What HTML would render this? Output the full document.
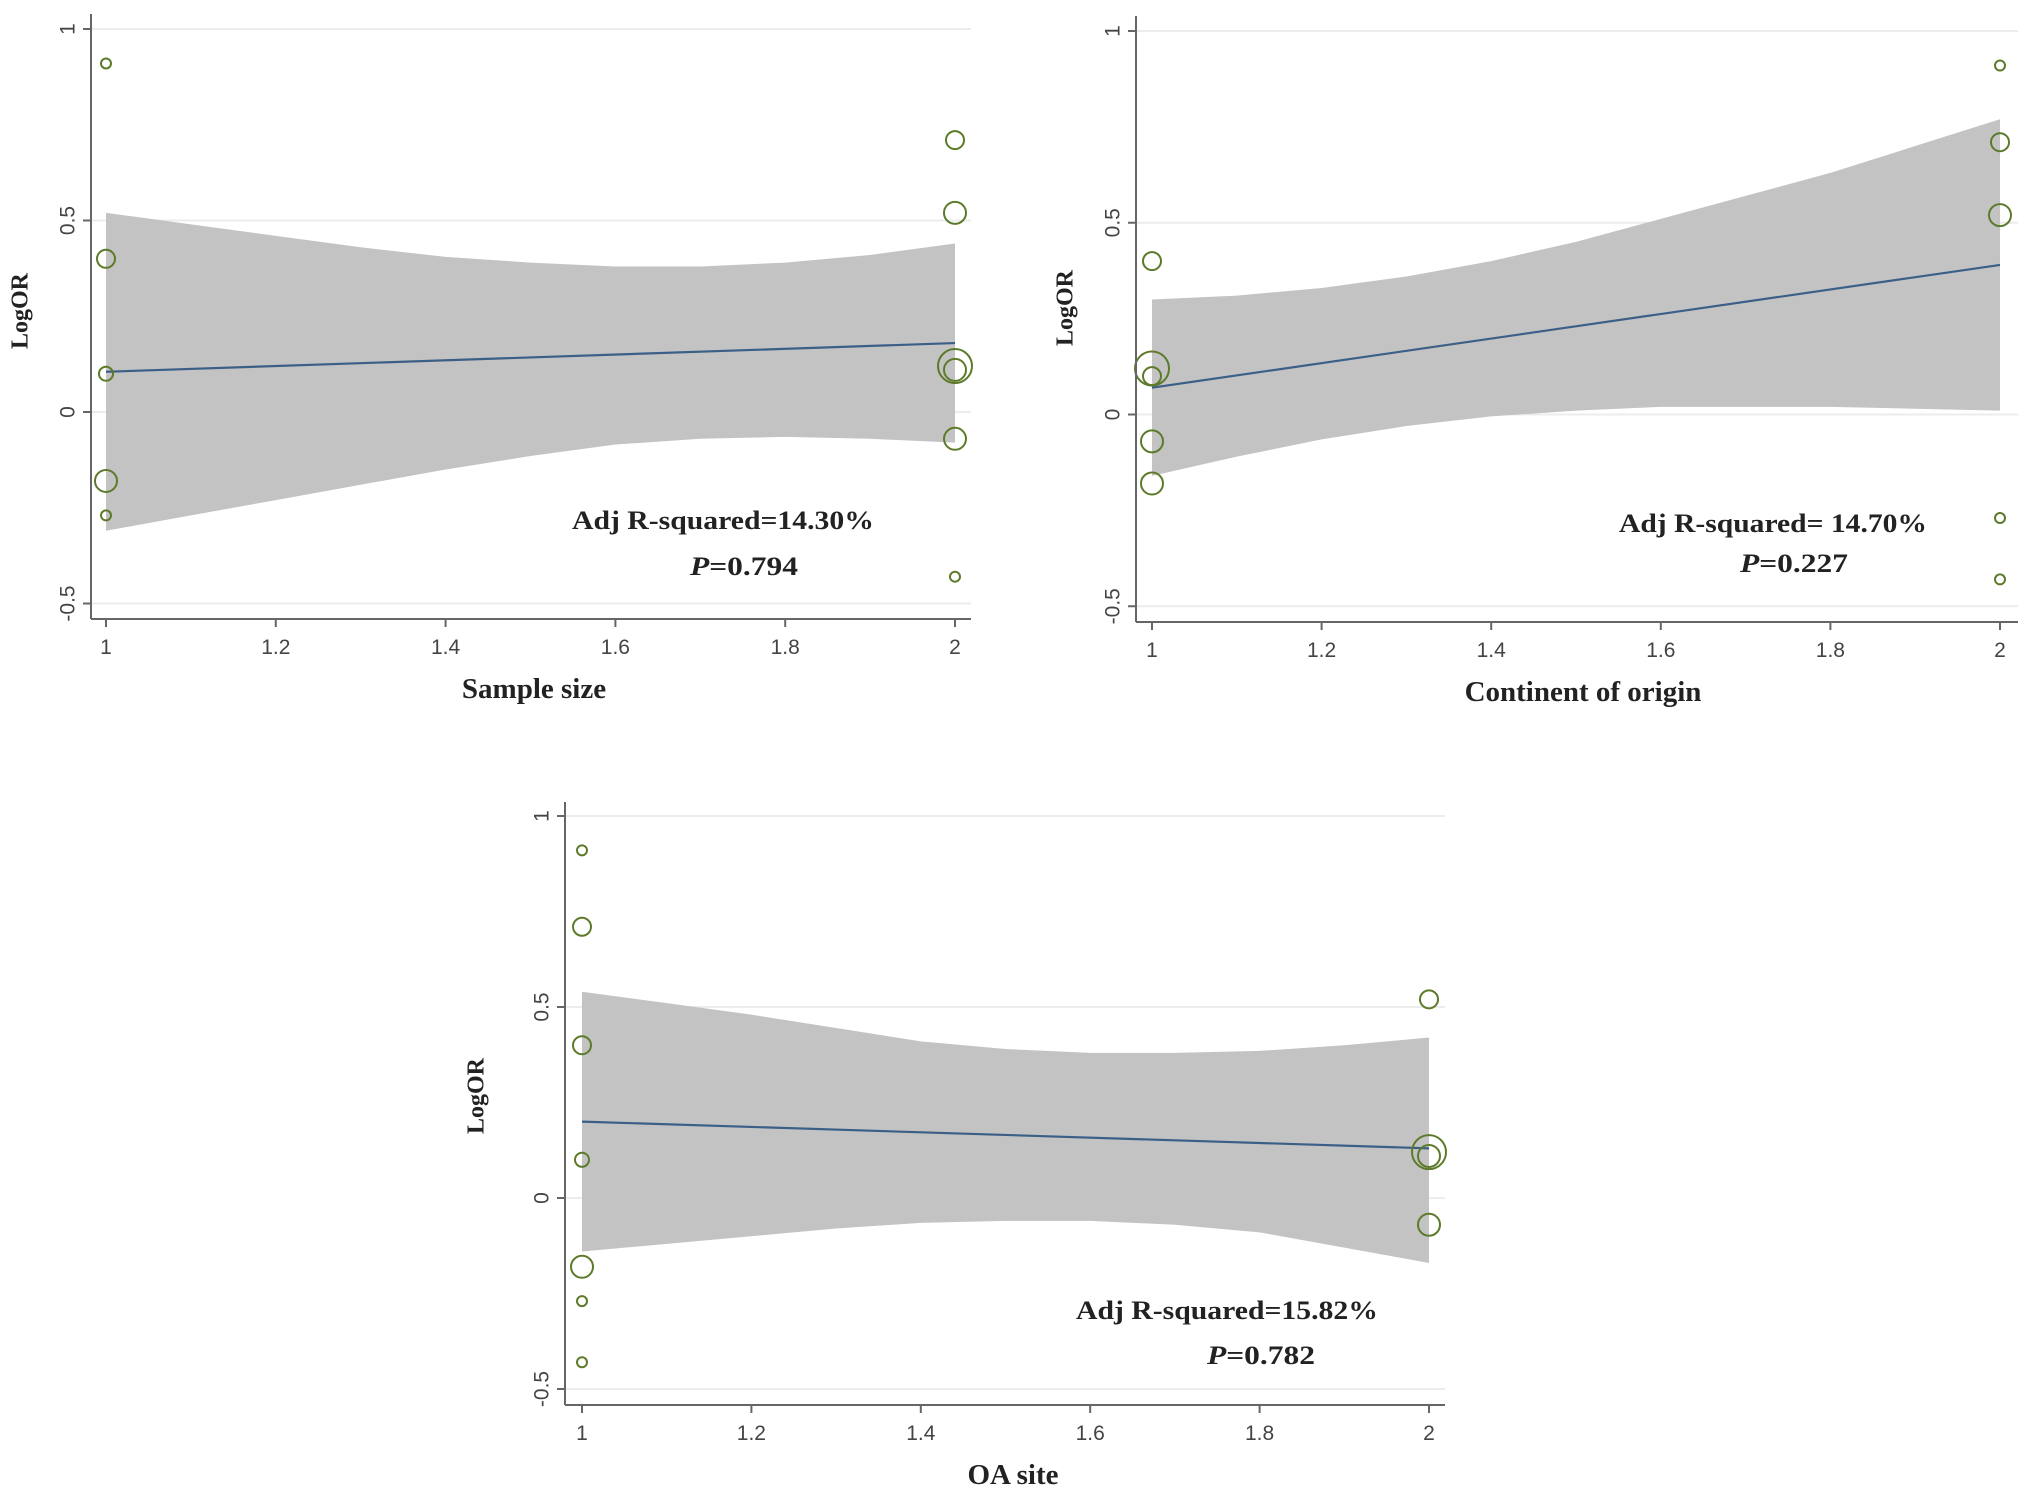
<!DOCTYPE html>
<html><head><meta charset="utf-8"><style>
html,body{margin:0;padding:0;background:#fff;}
svg{display:block;}
.tick{font-family:"Liberation Sans",sans-serif;font-size:21px;fill:#444;}
.ttl{font-family:"Liberation Serif",serif;font-weight:bold;fill:#222;}
</style></head><body>
<svg id="fig" width="2031" height="1499" viewBox="0 0 2031 1499" xmlns="http://www.w3.org/2000/svg"></svg>
<script>
// ---- shared data ----
const xTicks = [1, 1.2, 1.4, 1.6, 1.8, 2];
const xTickLabels = ["1", "1.2", "1.4", "1.6", "1.8", "2"];
const yTicks = [1, 0.5, 0, -0.5];
const yTickLabels = ["1", "0.5", "0", "-0.5"];
const bandX = [1, 1.1, 1.2, 1.3, 1.4, 1.5, 1.6, 1.7, 1.8, 1.9, 2];

// ---- panel 1: Sample size ----
const p1PointsX = [1, 1, 1, 1, 1, 2, 2, 2, 2, 2, 2];
const p1PointsY = [0.91, 0.40, 0.10, -0.18, -0.27, 0.71, 0.52, 0.12, 0.11, -0.07, -0.43];
const p1PointsW = [1, 2, 1.5, 2.5, 1, 2, 2.5, 4, 2.5, 2.5, 1];
const p1Upper = [0.52, 0.49, 0.46, 0.43, 0.405, 0.39, 0.38, 0.38, 0.39, 0.41, 0.44];
const p1Lower = [-0.31, -0.27, -0.23, -0.19, -0.15, -0.115, -0.085, -0.07, -0.065, -0.07, -0.08];
const p1Fit = [0.105, 0.18];

// ---- panel 2: Continent of origin ----
const p2PointsX = [1, 1, 1, 1, 1, 2, 2, 2, 2, 2];
const p2PointsY = [0.40, 0.12, 0.10, -0.07, -0.18, 0.91, 0.71, 0.52, -0.27, -0.43];
const p2PointsW = [2, 4, 2, 2.5, 2.5, 1, 2, 2.5, 1, 1];
const p2Upper = [0.30, 0.31, 0.33, 0.36, 0.40, 0.45, 0.51, 0.57, 0.63, 0.70, 0.77];
const p2Lower = [-0.16, -0.11, -0.065, -0.03, -0.005, 0.01, 0.02, 0.02, 0.02, 0.015, 0.01];
const p2Fit = [0.07, 0.39];

// ---- panel 3: OA site ----
const p3PointsX = [1, 1, 1, 1, 1, 1, 1, 2, 2, 2, 2];
const p3PointsY = [0.91, 0.71, 0.40, 0.10, -0.18, -0.27, -0.43, 0.52, 0.12, 0.11, -0.07];
const p3PointsW = [1, 2, 2, 1.5, 2.5, 1, 1, 2, 4, 2.5, 2.5];
const p3Upper = [0.54, 0.51, 0.48, 0.445, 0.41, 0.39, 0.38, 0.38, 0.385, 0.40, 0.42];
const p3Lower = [-0.14, -0.12, -0.10, -0.08, -0.065, -0.06, -0.06, -0.07, -0.09, -0.13, -0.17];
const p3Fit = [0.20, 0.13];

const NS = "http://www.w3.org/2000/svg";
const svg = document.getElementById('fig');
function mk(tag, attrs, parent){
  const e = document.createElementNS(NS, tag);
  for (const k in attrs) e.setAttribute(k, attrs[k]);
  (parent||svg).appendChild(e); return e;
}

function panel(cfg){
  const g = mk('g', {});
  
  
  const sx = v => cfg.x1 + (v - 1) * (cfg.x2 - cfg.x1);
  const sy = v => cfg.y0 - v * (cfg.y0 - cfg.y1);
  // gridlines
  yTicks.forEach(t => {
    const l = mk('line', {x1: cfg.axX, x2: cfg.right, y1: sy(t), y2: sy(t), stroke: '#ececec', 'stroke-width': 2}, g);
    
    
  });
  // band
  let d = '';
  bandX.forEach((x, i) => { d += (i ? 'L' : 'M') + sx(x) + ',' + sy(cfg.upper[i]); });
  for (let i = bandX.length - 1; i >= 0; i--) d += 'L' + sx(bandX[i]) + ',' + sy(cfg.lower[i]);
  const band = mk('path', {d: d + 'Z', fill: '#c3c3c3'}, g);
  
  
  // fit line
  const fit = mk('line', {x1: sx(1), y1: sy(cfg.fit[0]), x2: sx(2), y2: sy(cfg.fit[1]), stroke: '#3b5f86', 'stroke-width': 2.2}, g);
  
  
  // points
  cfg.px.forEach((x, i) => {
    const c = mk('circle', {cx: sx(x), cy: sy(cfg.py[i]), r: 4 * cfg.pw[i] + 1, fill: 'none', stroke: '#5d7a2a', 'stroke-width': 2}, g);
    
    
  });
  // axes
  const ya = mk('line', {x1: cfg.axX, x2: cfg.axX, y1: cfg.top, y2: cfg.axY, stroke: '#666', 'stroke-width': 2}, g);
  
  
  const xa = mk('line', {x1: cfg.axX, x2: cfg.right, y1: cfg.axY, y2: cfg.axY, stroke: '#666', 'stroke-width': 2}, g);
  
  
  yTicks.forEach((t, i) => {
    mk('line', {x1: cfg.axX - 8, x2: cfg.axX, y1: sy(t), y2: sy(t), stroke: '#666', 'stroke-width': 2}, g);
    const tx = mk('text', {class: 'tick', x: cfg.axX - 22, y: sy(t), 'text-anchor': 'middle', transform: `rotate(-90 ${cfg.axX - 22} ${sy(t)})`, 'dominant-baseline': 'middle'}, g);
    tx.textContent = yTickLabels[i];
    
    
  });
  xTicks.forEach((t, i) => {
    mk('line', {x1: sx(t), x2: sx(t), y1: cfg.axY, y2: cfg.axY + 8, stroke: '#666', 'stroke-width': 2}, g);
    const tx = mk('text', {class: 'tick', x: sx(t), y: cfg.axY + 35, 'text-anchor': 'middle'}, g);
    tx.textContent = xTickLabels[i];
    
    
  });
  const xt = mk('text', {class: 'ttl', x: cfg.xtX, y: cfg.axY + 79, 'text-anchor': 'middle', 'font-size': 29}, g);
  xt.textContent = cfg.xtitle;
  
  
  const yt = mk('text', {class: 'ttl', x: cfg.ytX, y: cfg.ytY, 'text-anchor': 'middle', 'font-size': 24, transform: `rotate(-90 ${cfg.ytX} ${cfg.ytY})`, 'dominant-baseline': 'middle'}, g);
  yt.textContent = 'LogOR';
  
  
  const r2 = mk('text', {class: 'ttl', x: cfg.r2x, y: cfg.r2y, 'font-size': 26, textLength: cfg.r2w, lengthAdjust: 'spacingAndGlyphs'}, g);
  r2.textContent = cfg.r2;
  
  
  const pv = mk('text', {class: 'ttl', x: cfg.px0, y: cfg.py0, 'font-size': 26, textLength: 108, lengthAdjust: 'spacingAndGlyphs'}, g);
  const it = mk('tspan', {'font-style': 'italic'}, pv); it.textContent = 'P';
  const rest = mk('tspan', {}, pv); rest.textContent = cfg.p;
  
  
}

panel({name: 'panel-sample-size', x1: 106, x2: 955, y1: 29, y0: 412, top: 14, axX: 91, axY: 619, right: 971,
  px: p1PointsX, py: p1PointsY, pw: p1PointsW, upper: p1Upper, lower: p1Lower, fit: p1Fit,
  xtitle: 'Sample size', xtX: 534, ytX: 22, ytY: 311,
  r2: 'Adj R-squared=14.30%', r2x: 572, r2y: 529, r2w: 302, p: '=0.794', px0: 690, py0: 575});
panel({name: 'panel-continent-of-origin', x1: 1152, x2: 2000, y1: 31, y0: 414.5, top: 16, axX: 1136, axY: 622, right: 2018,
  px: p2PointsX, py: p2PointsY, pw: p2PointsW, upper: p2Upper, lower: p2Lower, fit: p2Fit,
  xtitle: 'Continent of origin', xtX: 1583, ytX: 1067, ytY: 308,
  r2: 'Adj R-squared= 14.70%', r2x: 1619, r2y: 532, r2w: 308, p: '=0.227', px0: 1740, py0: 572});
panel({name: 'panel-oa-site', x1: 582, x2: 1429, y1: 816, y0: 1198, top: 802, axX: 565, axY: 1405, right: 1445,
  px: p3PointsX, py: p3PointsY, pw: p3PointsW, upper: p3Upper, lower: p3Lower, fit: p3Fit,
  xtitle: 'OA site', xtX: 1013, ytX: 478, ytY: 1096,
  r2: 'Adj R-squared=15.82%', r2x: 1076, r2y: 1319, r2w: 302, p: '=0.782', px0: 1207, py0: 1364});
</script>
</body></html>
